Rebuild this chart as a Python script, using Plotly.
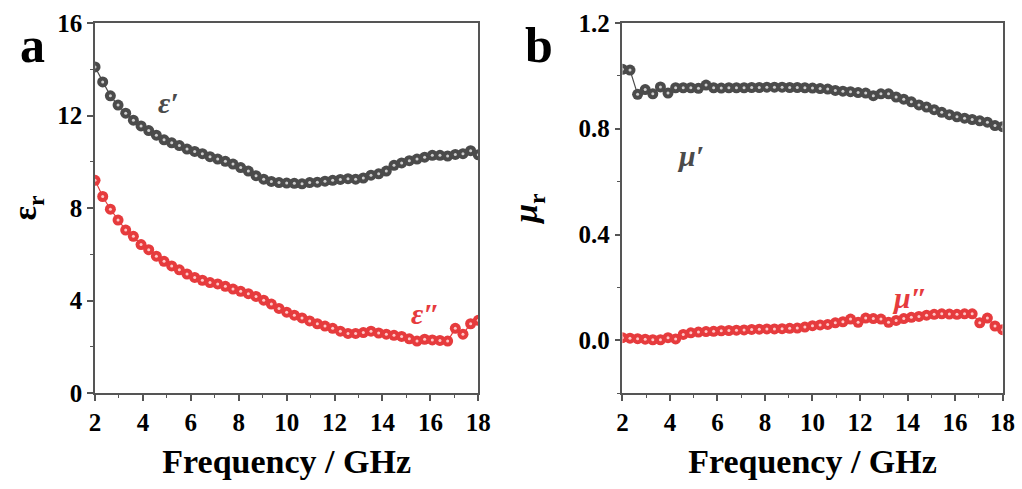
import plotly.graph_objects as go

freq = [2.00, 2.32, 2.64, 2.96, 3.28, 3.60, 3.92, 4.24, 4.56, 4.88,
        5.20, 5.52, 5.84, 6.16, 6.48, 6.80, 7.12, 7.44, 7.76, 8.08,
        8.40, 8.72, 9.04, 9.36, 9.68, 10.00, 10.32, 10.64, 10.96, 11.28,
        11.60, 11.92, 12.24, 12.56, 12.88, 13.20, 13.52, 13.84, 14.16, 14.48,
        14.80, 15.12, 15.44, 15.76, 16.08, 16.40, 16.72, 17.04, 17.36, 17.68, 18.00]

eps_real = [14.1, 13.45, 12.85, 12.45, 12.1, 11.8, 11.55, 11.35, 11.15, 10.95,
            10.82, 10.7, 10.55, 10.45, 10.35, 10.22, 10.12, 10.02, 9.9, 9.75,
            9.6, 9.4, 9.25, 9.15, 9.1, 9.08, 9.07, 9.05, 9.1, 9.12,
            9.16, 9.2, 9.24, 9.27, 9.25, 9.3, 9.42, 9.48, 9.6, 9.85,
            9.95, 10.05, 10.12, 10.2, 10.28, 10.28, 10.25, 10.32, 10.35, 10.48, 10.3]

eps_imag = [9.2, 8.5, 7.95, 7.48, 7.05, 6.78, 6.42, 6.2, 5.92, 5.7,
            5.5, 5.33, 5.15, 5.0, 4.88, 4.78, 4.72, 4.62, 4.5, 4.4,
            4.3, 4.18, 4.02, 3.85, 3.66, 3.5, 3.37, 3.25, 3.12, 3.0,
            2.9, 2.8, 2.68, 2.58, 2.58, 2.62, 2.68, 2.6, 2.55, 2.5,
            2.45, 2.35, 2.25, 2.33, 2.3, 2.28, 2.25, 2.8, 2.55, 3.0, 3.15]

mu_real = [1.025, 1.022, 0.93, 0.948, 0.932, 0.958, 0.935, 0.955, 0.955, 0.955,
           0.953, 0.965, 0.955, 0.954, 0.955, 0.955, 0.955, 0.956, 0.956, 0.957,
           0.957, 0.957, 0.956, 0.956, 0.955, 0.954, 0.952, 0.95, 0.945, 0.942,
           0.94, 0.937, 0.935, 0.925, 0.932, 0.932, 0.92, 0.912, 0.902, 0.89,
           0.882, 0.872, 0.862, 0.853, 0.845, 0.84, 0.835, 0.83, 0.825, 0.812, 0.808]

mu_imag = [0.01, 0.008, 0.006, 0.004, 0.002, 0.002, 0.01, 0.005, 0.022, 0.028,
           0.031, 0.033, 0.034, 0.036, 0.037, 0.038, 0.039, 0.041, 0.042, 0.043,
           0.043, 0.044, 0.045, 0.046, 0.05, 0.055, 0.058, 0.06, 0.066, 0.07,
           0.08, 0.068, 0.084, 0.082, 0.08, 0.068, 0.075, 0.082, 0.087, 0.09,
           0.095, 0.098, 0.1, 0.099, 0.098, 0.1, 0.1, 0.066, 0.084, 0.054, 0.04]

x_ticks = [2, 4, 6, 8, 10, 12, 14, 16, 18]
eps_ticks = [0, 4, 8, 12, 16]
mu_ticks = [0.0, 0.4, 0.8, 1.2]
mu_tick_text = ["0.0", "0.4", "0.8", "1.2"]

GREY = "#4b4b4b"
RED = "#e63b3d"
HL_GREY = "#cfcfcf"
HL_RED = "#ffc8c8"
FONT = "Liberation Serif"
AXC = "#555555"

fig = go.Figure()


def add_series(x, y, color, hl, xa, ya):
    fig.add_trace(go.Scatter(
        x=x, y=y, mode="lines+markers", xaxis=xa, yaxis=ya,
        line=dict(color=color, width=1.2),
        marker=dict(size=11, color=color, line=dict(width=0)),
        showlegend=False, hoverinfo="skip"))
    fig.add_trace(go.Scatter(
        x=x, y=y, mode="markers", xaxis=xa, yaxis=ya,
        marker=dict(size=3, color=hl, line=dict(width=0)),
        showlegend=False, hoverinfo="skip"))


add_series(freq, eps_real, GREY, HL_GREY, "x", "y")
add_series(freq, eps_imag, RED, HL_RED, "x", "y")
add_series(freq, mu_real, GREY, HL_GREY, "x2", "y2")
add_series(freq, mu_imag, RED, HL_RED, "x2", "y2")

tickfont = dict(family=FONT, size=25, color="black", weight="bold")
titlefont = dict(family=FONT, size=34, color="black")

common_x = dict(
    range=[2, 18], tickvals=x_ticks, ticks="outside", ticklen=6, tickwidth=1.5,
    tickcolor=AXC, showline=True, linecolor=AXC, linewidth=1.5, mirror=True,
    showgrid=False, zeroline=False, tickfont=tickfont, automargin=False,
    minor=dict(dtick=1, tick0=2, ticks="outside", ticklen=3.5, tickwidth=1.2, tickcolor=AXC),
    title=dict(text="<b>Frequency / GHz</b>", font=titlefont, standoff=14),
)

common_y = dict(
    ticks="outside", ticklen=6, tickwidth=1.5, tickcolor=AXC,
    showline=True, linecolor=AXC, linewidth=1.5, mirror=True,
    showgrid=False, zeroline=False, tickfont=tickfont, automargin=False,
)

fig.update_layout(
    width=1022, height=489,
    margin=dict(l=0, r=0, t=0, b=0),
    paper_bgcolor="white", plot_bgcolor="white",
    xaxis=dict(domain=[0.093, 0.468], anchor="y", **common_x),
    xaxis2=dict(domain=[0.609, 0.981], anchor="y2", **common_x),
    yaxis=dict(domain=[0.196, 0.953], anchor="x", range=[0, 16], tickvals=eps_ticks,
               minor=dict(dtick=2, tick0=0, ticks="outside", ticklen=3.5, tickwidth=1.2, tickcolor=AXC),
               title=dict(text="<b>ε<sub>r</sub></b>", font=titlefont, standoff=10),
               **common_y),
    yaxis2=dict(domain=[0.196, 0.953], anchor="x2", range=[-0.2, 1.2], tickvals=mu_ticks,
                ticktext=mu_tick_text,
                minor=dict(dtick=0.2, tick0=0, ticks="outside", ticklen=3.5, tickwidth=1.2, tickcolor=AXC),
                title=dict(text="<b><i>μ</i><sub>r</sub></b>", font=titlefont, standoff=30),
                **common_y),
)

ann_font_g = dict(family=FONT, size=30, color=GREY)
ann_font_r = dict(family=FONT, size=30, color=RED)
fig.add_annotation(x=5.05, y=12.55, xref="x", yref="y", text="<b><i>ε′</i></b>", showarrow=False, font=ann_font_g)
fig.add_annotation(x=15.8, y=3.45, xref="x", yref="y", text="<b><i>ε″</i></b>", showarrow=False, font=ann_font_r)
fig.add_annotation(x=4.86, y=0.7, xref="x2", yref="y2", text="<b><i>μ′</i></b>", showarrow=False, font=ann_font_g)
fig.add_annotation(x=14.1, y=0.16, xref="x2", yref="y2", text="<b><i>μ″</i></b>", showarrow=False, font=ann_font_r)

fig.add_annotation(x=0.032, y=0.907, xref="paper", yref="paper", xanchor="center", yanchor="middle",
                   text="<b>a</b>", showarrow=False, font=dict(family=FONT, size=50, color="black"))
fig.add_annotation(x=0.527, y=0.907, xref="paper", yref="paper", xanchor="center", yanchor="middle",
                   text="<b>b</b>", showarrow=False, font=dict(family=FONT, size=50, color="black"))

fig.write_html("out.html")
